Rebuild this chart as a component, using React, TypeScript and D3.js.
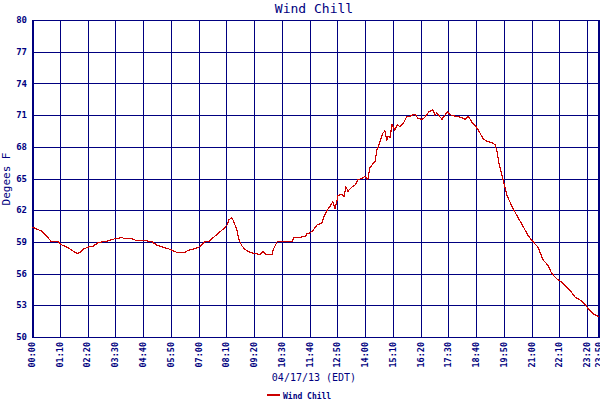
import React from "react";
import * as d3 from "d3";

const title = "Wind Chill";
const yLabel = "Degees F";
const xLabel = "04/17/13 (EDT)";
const seriesName = "Wind Chill";

const xTickLabels = ["00:00","01:10","02:20","03:30","04:40","05:50","07:00","08:10","09:20","10:30","11:40","12:50","14:00","15:10","16:20","17:30","18:40","19:50","21:00","22:10","23:20","23:50"];
const yTicks = [50, 53, 56, 59, 62, 65, 68, 71, 74, 77, 80];

const times = ["00:00","00:13","00:25","00:38","00:48","01:06","01:16","01:28","01:41","01:54","02:01","02:09","02:21","02:34","02:46","02:57","03:12","03:29","03:47","03:55","04:12","04:25","04:50","05:03","05:15","05:30","05:48","06:06","06:26","06:33","06:46","07:01","07:16","07:26","07:37","07:49","08:02","08:12","08:17","08:24","08:29","08:37","08:42","08:50","08:57","09:10","09:22","09:35","09:43","09:50","10:05","10:10","10:18","10:33","10:56","11:01","11:16","11:21","11:29","11:34","11:41","11:49","11:59","12:11","12:16","12:24","12:32","12:39","12:44","12:52","13:02","13:07","13:12","13:17","13:27","13:35","13:42","13:52","14:00","14:07","14:12","14:20","14:25","14:30","14:38","14:45","14:50","14:55","14:58","15:03","15:08","15:15","15:21","15:28","15:36","15:46","15:53","16:06","16:13","16:24","16:31","16:41","16:51","16:56","17:01","17:14","17:27","17:37","17:47","18:02","18:12","18:20","18:30","18:40","18:50","18:57","19:08","19:20","19:28","19:33","19:38","19:48","19:58","20:11","20:26","20:38","20:51","21:04","21:16","21:29","21:41","21:51","22:04","22:12","22:24","22:37","22:49","23:02","23:15","23:22","23:35","23:50"];
const values = [60.4,60.2,60.0,59.5,59.05,59.0,58.7,58.5,58.2,57.9,58.0,58.3,58.5,58.6,58.9,59.0,59.1,59.3,59.4,59.3,59.3,59.1,59.1,59.0,58.7,58.5,58.3,58.0,58.0,58.2,58.3,58.5,59.0,59.05,59.4,59.8,60.2,60.6,61.1,61.3,60.9,60.1,59.2,58.6,58.3,58.0,57.9,57.8,58.1,57.8,57.8,58.4,59.0,59.05,59.05,59.4,59.4,59.5,59.5,59.8,59.85,60.1,60.6,60.8,61.4,62.0,62.4,62.8,62.1,63.4,63.5,63.3,64.2,63.8,64.2,64.4,64.9,65.0,65.2,64.9,66.0,66.4,66.6,67.7,68.5,69.3,69.5,68.6,69.0,68.9,70.1,69.6,70.1,69.9,70.2,70.9,70.9,71.1,70.7,70.6,70.8,71.3,71.5,71.0,71.2,70.6,71.3,71.0,70.9,70.8,70.6,70.9,70.3,69.9,69.3,68.8,68.5,68.4,68.2,67.5,66.4,64.9,63.4,62.3,61.3,60.5,59.6,59.0,58.5,57.3,56.8,56.0,55.5,55.3,54.9,54.4,53.8,53.5,53.1,52.7,52.2,51.9];

const toMin = (s: string) => {
  const [h, m] = s.split(":").map(Number);
  return h * 60 + m;
};

const NAVY = "#000080";
const RED = "#cc0000";
const MONO = "'DejaVu Sans Mono', monospace";

export default function App() {
  const W = 600, H = 400;
  const left = 32, right = 599, top = 20, bottom = 337;
  const x = d3.scaleLinear().domain([0, toMin("23:50")]).range([left, right]);
  const y = d3.scaleLinear().domain([50, 80]).range([bottom, top]);
  const data = times.map((t, i) => ({ t: toMin(t), v: values[i] }));
  const line = d3.line<{ t: number; v: number }>().x(d => x(d.t)).y(d => y(d.v));
  const snap = (v: number) => Math.round(v) + 0.5;

  return (
    <svg width={W} height={H} style={{ position: "absolute", left: 0, top: 0, background: "#fff" }}>
      <rect x={0} y={0} width={W} height={H} fill="#fff" />
      <text x={314} y={13} textAnchor="middle" fontFamily={MONO} fontSize={13} fill={NAVY}>{title}</text>
      {yTicks.map(t => (
        <g key={"y" + t}>
          <line x1={left} x2={right} y1={snap(y(t))} y2={snap(y(t))} stroke={NAVY} strokeWidth={1} shapeRendering="crispEdges" />
          <text x={27} y={y(t)} dy="0.35em" textAnchor="end" fontFamily={MONO} fontWeight="bold" fontSize={9} fill={NAVY}>{t}</text>
        </g>
      ))}
      {xTickLabels.map(l => {
        const xx = snap(x(toMin(l)));
        return (
          <g key={"x" + l}>
            <line x1={xx} x2={xx} y1={top} y2={bottom} stroke={NAVY} strokeWidth={1} shapeRendering="crispEdges" />
            <text transform={`translate(${x(toMin(l))},342) rotate(-90)`} dy="0.35em" textAnchor="end" fontFamily={MONO} fontWeight="bold" fontSize={8.5} fill={NAVY}>{l}</text>
          </g>
        );
      })}
      <line x1={left + 1} x2={left + 1} y1={top} y2={bottom + 1} stroke={NAVY} strokeWidth={2} shapeRendering="crispEdges" />
      <line x1={right} x2={right} y1={top} y2={bottom + 1} stroke={NAVY} strokeWidth={2} shapeRendering="crispEdges" />
      <path d={line(data) || ""} fill="none" stroke={RED} strokeWidth={1.2} shapeRendering="crispEdges" />
      <text transform={`translate(10,179) rotate(-90)`} textAnchor="middle" fontFamily={MONO} fontSize={11} fill={NAVY}>{yLabel}</text>
      <text x={314} y={381} textAnchor="middle" fontFamily={MONO} fontSize={10} fill={NAVY}>{xLabel}</text>
      <line x1={267} x2={280} y1={395} y2={395} stroke={RED} strokeWidth={2} shapeRendering="crispEdges" />
      <text x={283} y={399} fontFamily={MONO} fontWeight="bold" fontSize={8} fill={NAVY}>{seriesName}</text>
    </svg>
  );
}
